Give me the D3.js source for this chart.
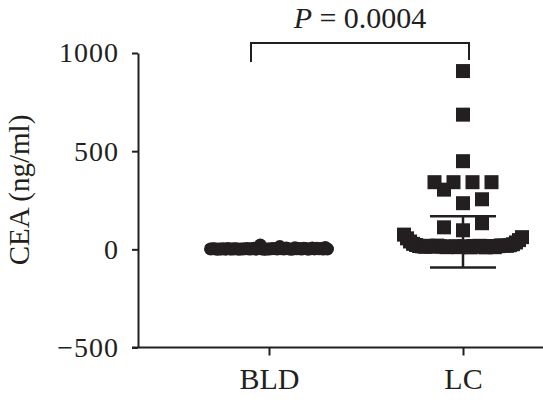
<!DOCTYPE html>
<html>
<head>
<meta charset="utf-8">
<script src="https://cdn.jsdelivr.net/npm/d3@7"></script>
<style>
  body { margin: 0; background: #fff; }
  svg { display: block; }
</style>
</head>
<body>
<div id="chart"></div>
<script>
// groups and raw values (ng/ml)
const groups = ["BLD", "LC"]
const bldValues = [
  2.1, 1.5, 3.2, 0.8, 4.5, 1.2, 2.6, 22, 1.9, 3.8, 14, 0.9, 2.4, 5.1, 1.7, 3.0,
  6.2, 1.1, 2.8, 4.1, 0.6, 3.5, 1.4, 2.2, 7.5, 1.8, 2.9, 0.7, 4.8, 3.3, 1.6, 2.5,
  5.6, 1.3, 3.9, 2.0, 0.5, 4.3, 2.7, 1.0, 6.8, 3.6, 1.9, 2.3, 5.3, 1.5, 3.1, 0.8,
  4.0, 2.6, 1.2, 3.4, 8.9, 2.0, 1.7
]
const lcValues = [
  12, 15, 11, 14, 16, 10, 13, 17, 12, 15, 11, 18, 14, 13, 16, 10, 19, 12, 15, 17,
  14, 11, 18, 16, 13, 20, 15, 19, 17, 18, 22, 21, 28, 26, 40, 35, 56, 47, 75, 62,
  97, 112, 133, 235, 304, 255, 342, 342, 342, 342, 449, 686, 908
]
// mean and SD per group, as drawn in the figure
const groupMean = [3, 38]
const groupSD = [4, 130]
const yTicks = [-500, 0, 500, 1000]
const pLabel = "0.0004"

const width = 543
const height = 403
const ink = "#231f20"
const font = "'Liberation Serif', 'Times New Roman', serif"

const y = d3.scaleLinear().domain([-500, 1000]).range([347.5, 53])
const x = d3.scalePoint().domain(groups).range([269, 463])

// GraphPad-like scatter: rows of fixed pixel height, points in a row spread
// center-out in data order, squeezed when the row gets too wide
function scatter(values, cx, binPx, step, maxSpan) {
  const bins = d3.group(
    values.map((v, i) => ({ v, i })),
    d => Math.floor((y(0) - y(d.v)) / binPx)
  )
  const out = []
  for (const [, pts] of bins) {
    const n = pts.length
    const s = n > 1 ? Math.min(step, maxSpan / (n - 1)) : 0
    const slots = d3.range(n).map(k => (k - (n - 1) / 2) * s)
    slots.sort((a, b) => Math.abs(a) - Math.abs(b) || a - b)
    pts.forEach((p, k) => out.push({ value: p.v, x: cx + slots[k] }))
  }
  return out
}

const svg = d3
  .select("#chart")
  .append("svg")
  .attr("width", width)
  .attr("height", height)
  .attr("viewBox", [0, 0, width, height])
  .style("font-family", font)

// y axis
svg
  .append("g")
  .attr("transform", "translate(138,0)")
  .call(
    d3
      .axisLeft(y)
      .tickValues(yTicks)
      .tickFormat(d3.format("d"))
      .tickSize(6)
      .tickSizeOuter(0)
      .tickPadding(13)
  )
  .call(g => g.select(".domain").attr("stroke", ink).attr("stroke-width", 2))
  .call(g => g.selectAll(".tick line").attr("stroke", ink).attr("stroke-width", 2))
  .call(g =>
    g
      .selectAll(".tick text")
      .attr("fill", ink)
      .style("font-family", font)
      .style("font-size", "28px")
      .attr("letter-spacing", "1px")
  )

// x axis
svg
  .append("g")
  .attr("transform", `translate(0,${y(-500)})`)
  .call(d3.axisBottom(x).tickSize(8).tickSizeOuter(0).tickPadding(12))
  .call(g =>
    g.select(".domain").attr("d", "M132,0H543").attr("stroke", ink).attr("stroke-width", 2)
  )
  .call(g => g.selectAll(".tick line").attr("stroke", ink).attr("stroke-width", 2))
  .call(g =>
    g
      .selectAll(".tick text")
      .attr("fill", ink)
      .style("font-family", font)
      .style("font-size", "30px")
  )

// y label
svg
  .append("text")
  .attr("transform", "translate(29,190)rotate(-90)")
  .attr("text-anchor", "middle")
  .attr("fill", ink)
  .style("font-size", "29px")
  .text("CEA (ng/ml)")

// points
const bldPts = scatter(bldValues, x("BLD"), 15, 19, 117)
const lcPts = scatter(lcValues, x("LC"), 15, 19, 118)

svg
  .append("g")
  .selectAll("circle")
  .data(bldPts)
  .join("circle")
  .attr("cx", d => d.x)
  .attr("cy", d => y(d.value))
  .attr("r", 6.5)
  .attr("fill", ink)

const sq = 14
svg
  .append("g")
  .selectAll("rect")
  .data(lcPts)
  .join("rect")
  .attr("x", d => d.x - sq / 2)
  .attr("y", d => y(d.value) - sq / 2)
  .attr("width", sq)
  .attr("height", sq)
  .attr("fill", ink)

// mean ± SD
const bars = svg
  .append("g")
  .attr("stroke", ink)
  .attr("stroke-width", 2.5)
  .attr("fill", "none")
groups.forEach((g, i) => {
  const cx = x(g)
  const m = groupMean[i]
  const s = groupSD[i]
  bars.append("line").attr("x1", cx - 33).attr("x2", cx + 33).attr("y1", y(m)).attr("y2", y(m))
  bars.append("line").attr("x1", cx).attr("x2", cx).attr("y1", y(m - s)).attr("y2", y(m + s))
  bars.append("line").attr("x1", cx - 33).attr("x2", cx + 33).attr("y1", y(m + s)).attr("y2", y(m + s))
  bars.append("line").attr("x1", cx - 33).attr("x2", cx + 33).attr("y1", y(m - s)).attr("y2", y(m - s))
})

// significance bracket
const bx0 = x("BLD") - 18
const bx1 = x("LC") + 6
svg
  .append("path")
  .attr("d", `M${bx0},62V43H${bx1}V60`)
  .attr("fill", "none")
  .attr("stroke", ink)
  .attr("stroke-width", 2)

const pText = svg
  .append("text")
  .attr("x", (bx0 + bx1) / 2)
  .attr("y", 27.5)
  .attr("text-anchor", "middle")
  .attr("fill", ink)
  .style("font-size", "30px")
pText.append("tspan").style("font-style", "italic").text("P")
pText.append("tspan").text(" = " + pLabel)
</script>
</body>
</html>
